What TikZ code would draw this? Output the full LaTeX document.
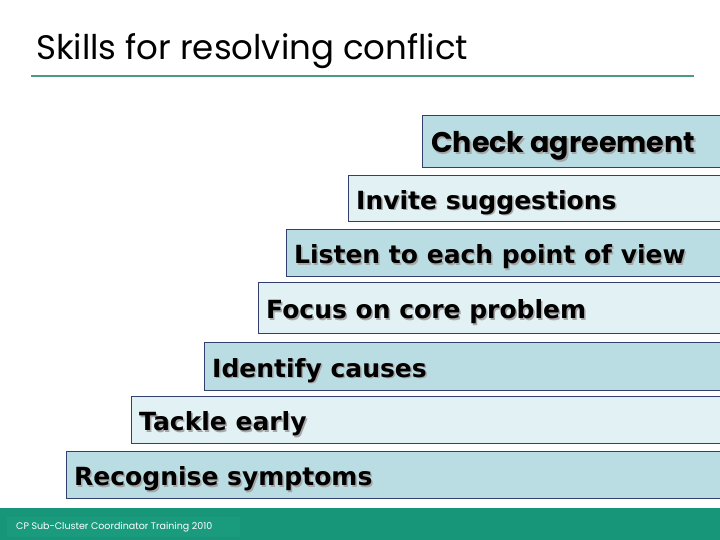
\documentclass[tikz,border=0pt]{standalone}
\usepackage{fontspec}
\usetikzlibrary{calc}
\setmainfont{DejaVu Sans}
\newfontfamily\gothic{Poppins}
\definecolor{darkfill}{HTML}{B9DDE3}
\definecolor{lightfill}{HTML}{E2F1F4}
\definecolor{boxline}{HTML}{33406E}
\definecolor{teal}{HTML}{4A9A84}
\definecolor{barcol}{HTML}{17967A}
\definecolor{tagcol}{HTML}{1B9B7E}
\tikzset{
  stepbox/.style={draw=boxline, line width=0.8pt},
  steptext/.style={anchor=west, inner sep=0pt, font=\bfseries\fontsize{25}{27}\selectfont, text=black},
  shadowtext/.style={steptext, text=black!35},
}
\newcommand{\stepitem}[6]{% name, x, ytop, ybot, fill, text
  \draw[stepbox, fill=#5] (#2,#3) rectangle (730,#4);
  \node[shadowtext] (#1s) at ($(#2,{(#3+#4)/2})+(9.5,6)$) {#6};
  \node[steptext] (#1) at ($(#2,{(#3+#4)/2})+(8,4.5)$) {#6};
}
\begin{document}
\begin{tikzpicture}[x=1pt,y=-1pt]
\useasboundingbox (0,0) rectangle (720,540);
\clip (0,0) rectangle (720,540);
\fill[white] (0,0) rectangle (720,540);
% title
\node[anchor=base west, inner sep=0pt, font=\gothic\fontsize{34}{38}\selectfont] (title) at (36,60) {Skills for resolving conflict};
\draw[teal, line width=2pt] (31,76) -- (694,76);
% steps
\draw[stepbox, fill=darkfill] (422,115) rectangle (730,167);
\node[shadowtext, font=\gothic\bfseries\fontsize{28.5}{30}\selectfont] (t1s) at (432.5,147.5) {Check agreement};
\node[steptext, font=\gothic\bfseries\fontsize{28.5}{30}\selectfont] (t1) at (431,146) {Check agreement};
\stepitem{t2}{348}{175}{221}{lightfill}{Invite suggestions}
\stepitem{t3}{286}{229}{276}{darkfill}{Listen to each point of view}
\stepitem{t4}{258}{282}{333}{lightfill}{Focus on core problem}
\stepitem{t5}{204}{342}{390}{darkfill}{Identify causes}
\stepitem{t6}{131}{396}{443}{lightfill}{Tackle early}
\stepitem{t7}{66}{451}{498}{darkfill}{Recognise symptoms}
% footer
\fill[barcol] (0,508) rectangle (720,540);
\fill[tagcol] (7,517) rectangle (240,537);
\node[anchor=west, inner sep=0pt, text=white, font=\gothic\fontsize{9.5}{11}\selectfont] (foot) at (16,527) {CP Sub-Cluster Coordinator Training 2010};
\end{tikzpicture}
\end{document}
